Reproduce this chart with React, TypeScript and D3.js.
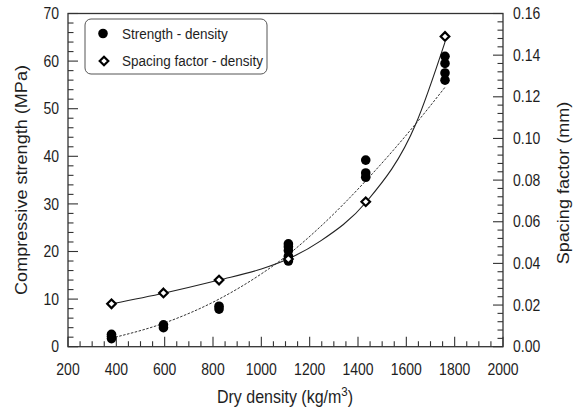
import { useRef, useEffect } from 'react';
import * as d3 from 'd3';

const WIDTH = 573;
const HEIGHT = 408;

// measured densities (kg/m3) for each mix
const densities = [380, 595, 825, 1112, 1432, 1760];
// compressive strength readings (MPa) at each density
const strengthReadings = [
  [1.7, 2.2, 2.6],
  [4.0, 4.6],
  [7.9, 8.5],
  [18.0, 19.0, 20.2, 21.0, 21.6],
  [35.6, 36.5, 39.2],
  [56.0, 57.5, 59.5, 61.0],
];
// spacing factor (mm) at each density
const spacingFactors = [0.0206, 0.0258, 0.032, 0.0421, 0.0696, 0.149];

// fitted curves
const strengthFitX = [380, 600, 825, 1000, 1110, 1244, 1435, 1640, 1760];
const strengthFitY = [1.8, 5.0, 10.0, 15.3, 19.3, 25.2, 35.0, 46.9, 54.5];
const spacingFitX = [380, 600, 825, 1000, 1110, 1244, 1435, 1640, 1760];
const spacingFitY = [0.0206, 0.0258, 0.032, 0.0373, 0.0421, 0.0507, 0.0696, 0.1072, 0.1463];

const xTicks = [200, 400, 600, 800, 1000, 1200, 1400, 1600, 1800, 2000];
const leftTicks = [0, 10, 20, 30, 40, 50, 60, 70];
const rightTicks = [0, 0.02, 0.04, 0.06, 0.08, 0.1, 0.12, 0.14, 0.16];

const FONT = '"Liberation Sans", Arial, sans-serif';
const INK = '#1e1e1e';
const STRETCH = 1.13; // the figure's lettering is a bit taller than wide

export default function App() {
  const svgRef = useRef(null);

  useEffect(() => {
    document.body.style.margin = '0';
    const svg = d3.select(svgRef.current);
    svg.selectAll('*').remove();

    const m = { left: 68, right: 503, top: 13.5, bottom: 346.7 };
    const x = d3.scaleLinear().domain([200, 2000]).range([m.left, m.right]);
    const yL = d3.scaleLinear().domain([0, 70]).range([m.bottom, m.top]);
    const yR = d3.scaleLinear().domain([0, 0.16]).range([m.bottom, m.top]);

    const g = svg.append('g');

    // minor + major ticks, drawn inward
    const tick = (x1, y1, x2, y2) =>
      g.append('line')
        .attr('x1', x1).attr('y1', y1).attr('x2', x2).attr('y2', y2)
        .attr('stroke', '#333').attr('stroke-width', 1.1);

    d3.range(200, 2001, 50).forEach((v) => {
      const len = v % 200 === 0 ? 10 : 5.5;
      tick(x(v), m.bottom, x(v), m.bottom - len);
    });
    d3.range(0, 71, 2).forEach((v) => {
      const len = v % 10 === 0 ? 10 : 5.5;
      tick(m.left, yL(v), m.left + len, yL(v));
    });
    d3.range(0, 41).forEach((i) => {
      const v = i * 0.004;
      const len = i % 5 === 0 ? 10 : 5.5;
      tick(m.right, yR(v), m.right - len, yR(v));
    });

    // frame
    g.append('rect')
      .attr('x', m.left).attr('y', m.top)
      .attr('width', m.right - m.left).attr('height', m.bottom - m.top)
      .attr('fill', 'none').attr('stroke', '#333').attr('stroke-width', 1.3);

    const label = (tx, ty, text, size, anchor, rotate = false) =>
      g.append('text')
        .attr('transform', `translate(${tx},${ty}) scale(1,${STRETCH})${rotate ? ' rotate(-90)' : ''}`)
        .attr('text-anchor', anchor)
        .attr('font-family', FONT)
        .attr('font-size', size)
        .attr('fill', INK)
        .text(text);

    xTicks.forEach((v) => label(x(v), 375, String(v), 14, 'middle'));
    leftTicks.forEach((v) => label(59, yL(v) + 5.6, String(v), 14, 'end'));
    rightTicks.forEach((v) => label(513, yR(v) + 5.6, v.toFixed(2), 14, 'start'));

    label(27, 180, 'Compressive strength (MPa)', 16, 'middle', true);
    label(569, 183, 'Spacing factor (mm)', 16, 'middle', true);

    const xt = label(285, 403, 'Dry density (kg/m', 16, 'middle');
    xt.append('tspan').attr('dy', -6).attr('font-size', 11.5).text('3');
    xt.append('tspan').attr('dy', 6).text(')');

    // fit curves
    const strengthLine = d3.line()
      .x((d) => x(d[0])).y((d) => yL(d[1]))
      .curve(d3.curveMonotoneX);
    const spacingLine = d3.line()
      .x((d) => x(d[0])).y((d) => yR(d[1]))
      .curve(d3.curveMonotoneX);

    g.append('path')
      .attr('d', strengthLine(d3.zip(strengthFitX, strengthFitY)))
      .attr('fill', 'none').attr('stroke', '#333').attr('stroke-width', 1)
      .attr('stroke-dasharray', '2.5,1.5');
    g.append('path')
      .attr('d', spacingLine(d3.zip(spacingFitX, spacingFitY)))
      .attr('fill', 'none').attr('stroke', '#222').attr('stroke-width', 1.1);

    // strength points
    const pts = densities.flatMap((d, i) => strengthReadings[i].map((s) => [d, s]));
    g.selectAll('.pt')
      .data(pts)
      .join('circle')
      .attr('cx', (d) => x(d[0]))
      .attr('cy', (d) => yL(d[1]))
      .attr('r', 4.8)
      .attr('fill', '#000');

    // spacing factor points
    const diamond = (r) => `M0,${-r}L${r},0L0,${r}L${-r},0Z`;
    g.selectAll('.dm')
      .data(d3.zip(densities, spacingFactors))
      .join('path')
      .attr('transform', (d) => `translate(${x(d[0])},${yR(d[1])})`)
      .attr('d', diamond(4.3))
      .attr('fill', '#fff')
      .attr('stroke', '#000')
      .attr('stroke-width', 2.2);

    // legend
    const lg = g.append('g');
    lg.append('rect')
      .attr('x', 85).attr('y', 19).attr('width', 182).attr('height', 55)
      .attr('rx', 6).attr('fill', '#fff').attr('stroke', '#555').attr('stroke-width', 1);
    lg.append('circle').attr('cx', 103).attr('cy', 33.5).attr('r', 4.8).attr('fill', '#000');
    lg.append('path')
      .attr('transform', 'translate(104,61)')
      .attr('d', diamond(4.3))
      .attr('fill', '#fff').attr('stroke', '#000').attr('stroke-width', 2.2);
    const legendText = (ty, text) =>
      lg.append('text')
        .attr('transform', `translate(122,${ty}) scale(1,${STRETCH})`)
        .attr('font-family', FONT).attr('font-size', 13.5).attr('fill', INK)
        .text(text);
    legendText(38.5, 'Strength - density');
    legendText(65.5, 'Spacing factor - density');
  }, []);

  return <svg ref={svgRef} width={WIDTH} height={HEIGHT} style={{ display: 'block', background: '#fff' }} />;
}
